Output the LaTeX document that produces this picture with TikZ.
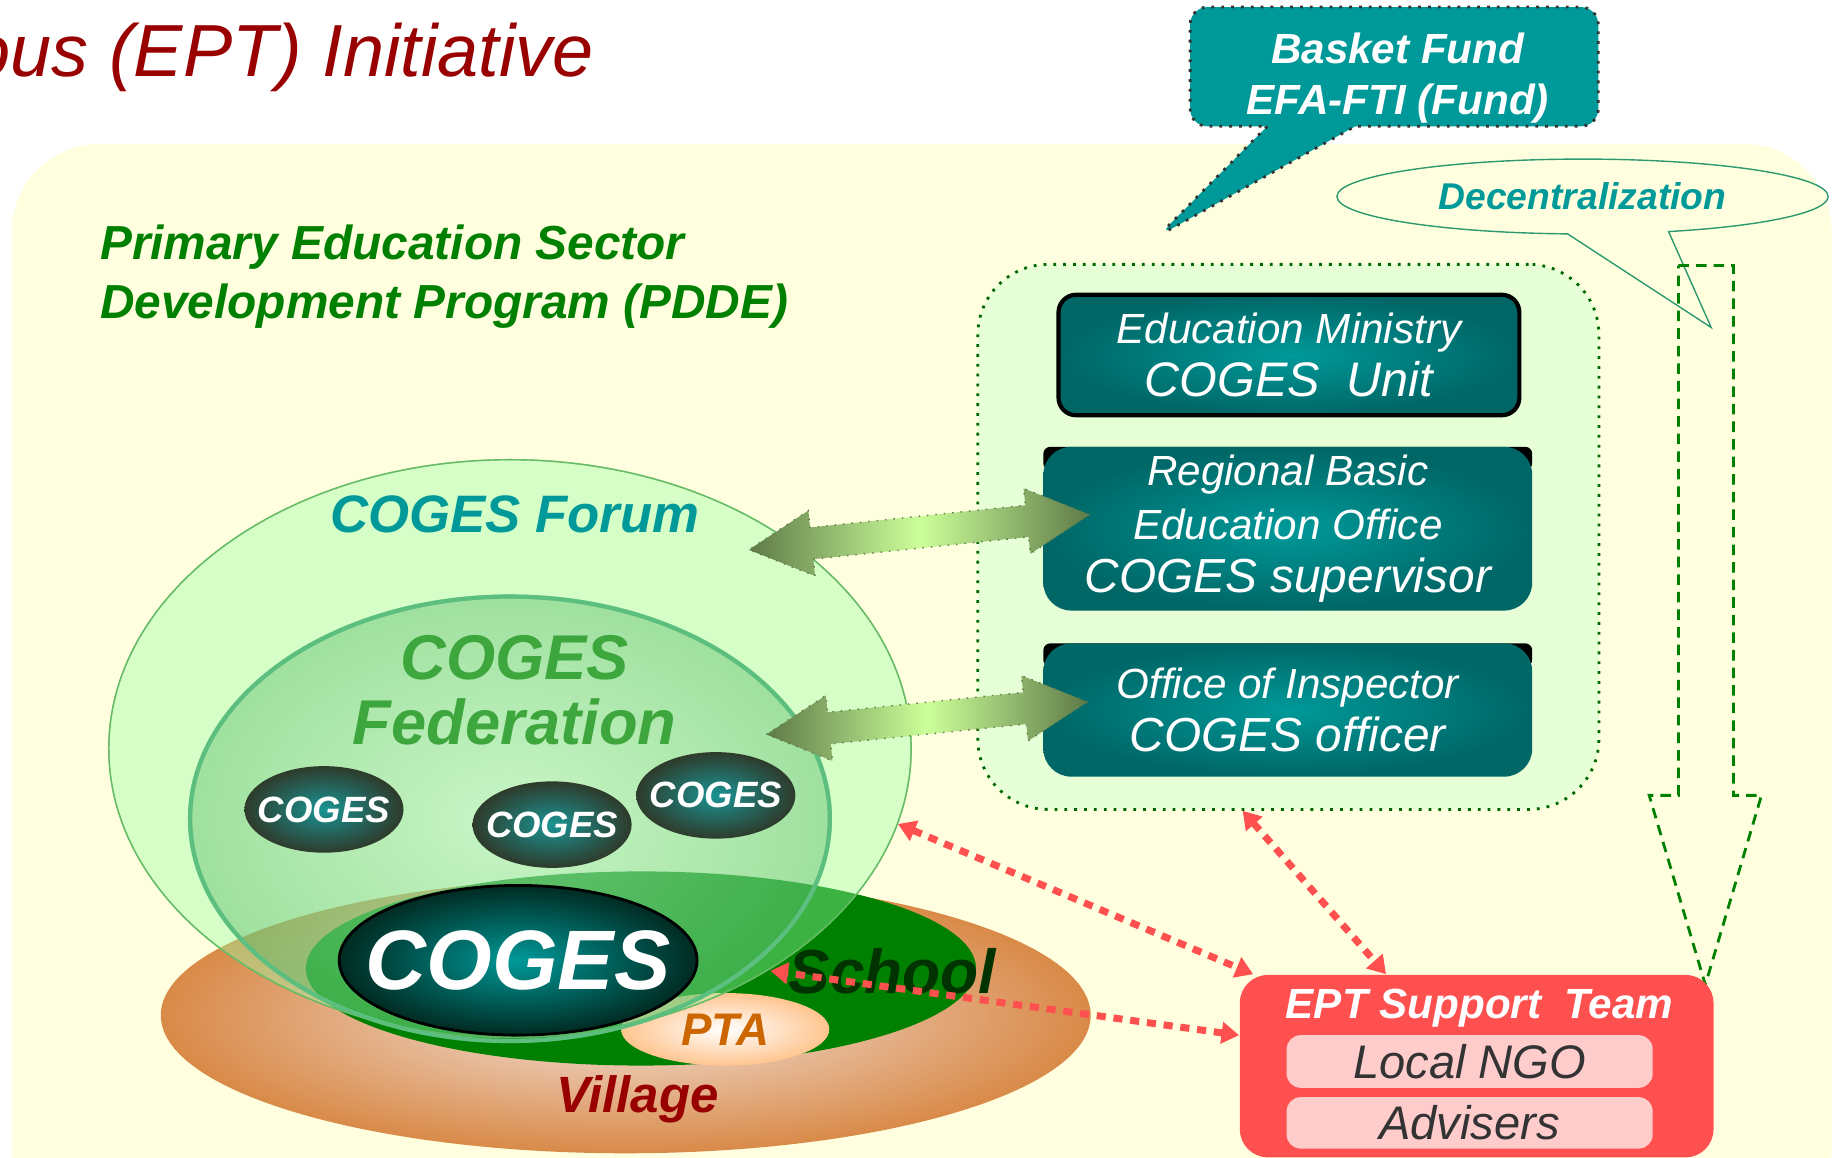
\documentclass[tikz,border=0pt]{standalone}
\usepackage{fontspec}
\setmainfont{Liberation Sans}
\usetikzlibrary{shapes.geometric,shapes.arrows,shapes.callouts,arrows.meta}
\definecolor{bgyellow}{HTML}{FFFFDF}
\definecolor{titlered}{HTML}{990000}
\definecolor{pddegreen}{HTML}{008000}
\definecolor{tealtxt}{HTML}{009999}
\definecolor{tealdark}{HTML}{006666}
\definecolor{panelgreen}{HTML}{E6FFD6}
\definecolor{forumgreen}{HTML}{96FFA5}
\definecolor{forumline}{HTML}{66BB66}
\definecolor{fedline}{HTML}{5CBF7F}
\definecolor{fedlight}{HTML}{B4E6C8}
\definecolor{fedouter}{HTML}{42AC59}
\definecolor{fedgreen}{HTML}{3DA63D}
\definecolor{schooltxt}{HTML}{003300}
\definecolor{cogesinner}{HTML}{1A9494}
\definecolor{cogesouter}{HTML}{2E3B2B}
\definecolor{cogesdeep}{HTML}{002B22}
\definecolor{villagelight}{HTML}{F2E2DC}
\definecolor{villageorange}{HTML}{D98A48}
\definecolor{ptapeach}{HTML}{FFC58F}
\definecolor{ptaorange}{HTML}{CC6600}
\definecolor{decoline}{HTML}{2E9970}
\definecolor{eptred}{HTML}{FF5050}
\definecolor{eptpink}{HTML}{FFCCCC}
\definecolor{olivearrow}{HTML}{5E7A48}
\definecolor{limearrow}{HTML}{CCFF99}
\newcommand{\dpx}{0.33274pt}
\newcommand{\setfs}[2]{\fontsize{#1}{#2}\selectfont}
\begin{document}
\begin{tikzpicture}[x=\dpx, y=-\dpx,
  every node/.style={inner sep=0pt, font=\itshape},
  cogesball/.style={ellipse, inner sep=-15pt, inner color=cogesinner, outer color=cogesouter, minimum width=136*\dpx, minimum height=74*\dpx, text=white, font=\bfseries\itshape\setfs{10.4}{12}},
  teambox/.style={rounded corners=8pt, inner color=tealtxt, outer color=tealdark, text=white, align=center, minimum width=418*\dpx, font=\itshape\setfs{12}{15.2}},
  greenarrow/.style={double arrow, draw=olivearrow, dotted, left color=olivearrow, right color=olivearrow, middle color=limearrow, inner ysep=13*\dpx, double arrow head extend=14.5*\dpx, double arrow tip angle=55},
  redlink/.style={draw=eptred, line width=2pt, dash pattern=on 2.6pt off 2.2pt, {Triangle[length=5pt,width=6pt]}-{Triangle[length=5pt,width=6pt]}}]
\useasboundingbox (0,0) rectangle (1568,990);
\clip (0,0) rectangle (1568,990);
\fill[bgyellow, rounded corners=25pt] (10,123) rectangle (1566,1060);
\node[anchor=base east, text=titlered, font=\itshape\setfs{21}{24}] (title) at (508,65) {ous (EPT) Initiative};
\node[anchor=base west, text=pddegreen, font=\bfseries\itshape\setfs{13.6}{16}] (pdde1) at (85,222) {Primary Education Sector};
\node[anchor=base west, text=pddegreen, font=\bfseries\itshape\setfs{13.6}{16}] (pdde2) at (85,272) {Development Program (PDDE)};
\node[rectangle callout, callout absolute pointer={(990,202)}, callout pointer width=25pt, rounded corners=5pt, fill=tealtxt, draw=black!80, dotted, thick, minimum width=349*\dpx, minimum height=102*\dpx] (fund) at (1192,57) {};
\node[align=center, text=white, font=\bfseries\itshape\setfs{12}{14.6}] (fundtxt) at (1195,67) {Basket Fund\\EFA-FTI (Fund)};
\node[ellipse callout, callout absolute pointer={(1463,280)}, callout pointer arc=24, draw=decoline, fill=bgyellow, minimum width=420*\dpx, minimum height=64*\dpx, text=tealtxt, font=\bfseries\itshape\setfs{10.6}{12}] (decentral) at (1353,168) {Decentralization};
\node[draw=pddegreen!80!black, dotted, thick, fill=panelgreen, rounded corners=20pt, minimum width=531*\dpx, minimum height=466*\dpx] (ministry) at (1101.5,459) {};
\node[teambox, rounded corners=5pt, draw=black, line width=1.2pt, minimum width=394*\dpx, minimum height=103*\dpx] (unit) at (1102,303.5) {Education Ministry\\{\setfs{13.8}{15.2}COGES\ \ Unit}};
\fill[black, rounded corners=2pt] (892,382) rectangle (1310,402);
\node[teambox, minimum height=140*\dpx] (region) at (1101,452) {Regional Basic\\Education Office\\{\setfs{13.6}{15.2}COGES supervisor}};
\fill[black, rounded corners=2pt] (892,550) rectangle (1310,570);
\node[teambox, minimum height=114*\dpx] (inspect) at (1101,607) {Office of Inspector\\{\setfs{13.6}{15.2}COGES officer}};
\node[ellipse, inner color=villagelight, outer color=villageorange, minimum width=795*\dpx, minimum height=236*\dpx] (village) at (535,868) {};
\node[ellipse, fill=pddegreen, minimum width=573*\dpx, minimum height=166*\dpx] (school) at (548,828) {};
\node[ellipse, inner color=white, outer color=ptapeach, minimum width=178*\dpx, minimum height=62*\dpx, text=ptaorange, font=\bfseries\itshape\setfs{13}{15}] (pta) at (620,880) {PTA};
\node[ellipse, draw=forumline, fill=forumgreen, fill opacity=.4, minimum width=686*\dpx, minimum height=494*\dpx] (forum) at (436,640) {};
\node[ellipse, draw=fedline, line width=1.2pt, inner color=fedlight, outer color=fedouter, fill opacity=.36, minimum width=547*\dpx, minimum height=380*\dpx] (federation) at (436,700) {};
\node[ellipse, inner sep=-20pt, draw=black, thick, inner color=tealtxt, outer color=cogesdeep, minimum width=306*\dpx, minimum height=128*\dpx, text=white, font=\bfseries\itshape\setfs{24}{28}] (coges) at (443,821) {COGES};
\draw[forumline, opacity=.6] (forum.center) ellipse [x radius=343, y radius=247];
\draw[fedline, line width=1.2pt, opacity=.6] (federation.center) ellipse [x radius=273.5, y radius=190];
\foreach \n/\x/\y in {1/277/692, 2/472/705, 3/612/680}
  \node[cogesball] (ball\n) at (\x,\y) {COGES};
\node[text=tealtxt, font=\bfseries\itshape\setfs{15}{18}] (forumtxt) at (440,440) {COGES Forum};
\node[text=fedgreen, align=center, font=\bfseries\itshape\setfs{18}{18.3}] (fedtxt) at (440,590) {COGES\\Federation};
\node[text=schooltxt, font=\bfseries\itshape\setfs{17.7}{20}] (schooltxt) at (763,830) {School};
\node[text=titlered, font=\bfseries\itshape\setfs{14.5}{17}] (villagetxt) at (545,940) {Village};
\node[greenarrow, minimum height=293*\dpx, rotate=5.9] (linkforum) at (786,455) {};
\node[greenarrow, minimum height=276*\dpx, rotate=5.8] (linkfed) at (792.5,614) {};
\draw[pddegreen, thick, dash pattern=on 3pt off 2pt] (1435,227) -- (1482,227) -- (1482,680) -- (1506,680) -- (1458,842) -- (1410,680) -- (1435,680) -- cycle;
\node[fill=eptred, rounded corners=8pt, minimum width=405*\dpx, minimum height=156*\dpx] (ept) at (1262.5,911.5) {};
\node[text=white, font=\bfseries\itshape\setfs{12}{14}] (epttxt) at (1265,862) {EPT Support\ \ Team};
\node[fill=eptpink, rounded corners=4pt, minimum width=313*\dpx, minimum height=45*\dpx, text=black!80, font=\itshape\setfs{13.4}{15}] (ngo) at (1256.5,907.5) {Local NGO};
\node[fill=eptpink, rounded corners=4pt, minimum width=313*\dpx, minimum height=44*\dpx, text=black!80, font=\itshape\setfs{13.4}{15}] (advisers) at (1256.5,960) {Advisers};
\draw[redlink] (forum.-11) -- ([xshift=4pt]ept.north west);
\draw[redlink] ([xshift=-13pt]ministry.south) -- ([xshift=-25.8pt]ept.north);
\draw[redlink] ([yshift=8.8pt]ept.west) -- ([xshift=-5pt]schooltxt.west);
\end{tikzpicture}
\end{document}
